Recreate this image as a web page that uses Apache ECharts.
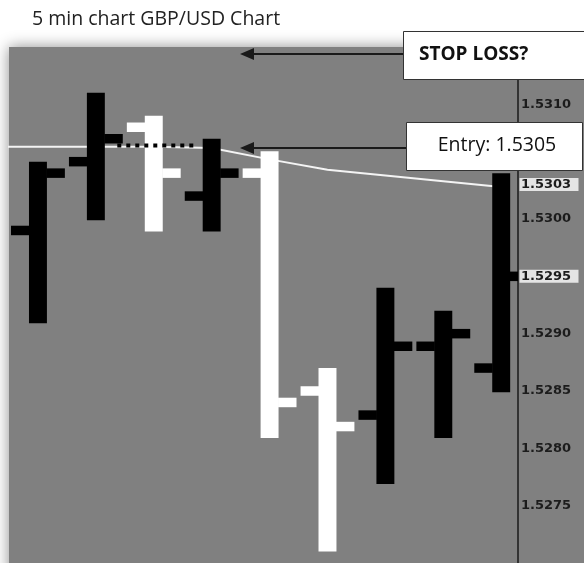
<!DOCTYPE html>
<html>
<head>
<meta charset="utf-8">
<script src="https://cdn.jsdelivr.net/npm/echarts@6/dist/echarts.min.js"></script>
<style>
  html, body { margin: 0; padding: 0; background: #ffffff; }
  #chart { width: 584px; height: 563px; }
</style>
</head>
<body>
<div id="chart"></div>
<script>
// 5-minute GBP/USD bars (index 0..8)
const barIndex = [0, 1, 2, 3, 4, 5, 6, 7, 8];
const opens  = [1.52990, 1.53050, 1.53080, 1.53020, 1.53040, 1.52850, 1.52829, 1.52889, 1.52870];
const highs  = [1.53050, 1.53110, 1.53090, 1.53070, 1.53059, 1.52870, 1.52940, 1.52920, 1.53040];
const lows   = [1.52909, 1.52999, 1.52989, 1.52989, 1.52809, 1.52710, 1.52769, 1.52809, 1.52849];
const closes = [1.53040, 1.53070, 1.53040, 1.53040, 1.52840, 1.52819, 1.52889, 1.52900, 1.52950];

// Moving average, one value per bar (starting one bar earlier)
const maIndex  = [-1, 0, 1, 2, 3, 4, 5, 6, 7, 8];
const maValues = [1.53063, 1.53063, 1.53063, 1.53063, 1.53062, 1.53052, 1.53043, 1.53038, 1.53033, 1.53028];

// Dotted entry level
const entryIndex  = [1.37, 2.75];
const entryValues = [1.53064, 1.53064];

// Highlighted price tags on the right scale
const priceTags = [1.5303, 1.5295];

// Price scale
const priceMin = 1.5270;
const priceMax = 1.5315;
const priceStep = 0.0005;

const ohlcData = barIndex.map((x, k) => [x, opens[k], highs[k], lows[k], closes[k]]);
const maData = maIndex.map((x, k) => [x, maValues[k]]);
const entryData = entryIndex.map((x, k) => [x, entryValues[k]]);

const xMin = -0.5;
const xMax = 8.29;
const labelFont = { fontFamily: 'DejaVu Sans', fontWeight: 'bold', fontSize: 13 };

const chart = echarts.init(document.getElementById('chart'), null, { renderer: 'canvas' });

chart.setOption({
  animation: false,
  backgroundColor: '#ffffff',
  grid: { left: 9, top: 47, width: 509, height: 522, containLabel: false },
  xAxis: { type: 'value', min: xMin, max: xMax, show: false },
  yAxis: {
    type: 'value',
    position: 'right',
    min: priceMin,
    max: priceMax,
    interval: priceStep,
    scale: true,
    splitLine: { show: false },
    axisTick: { show: false },
    axisLine: { show: true, onZero: false, lineStyle: { color: '#333333', width: 2 } },
    axisLabel: {
      show: true,
      margin: 3,
      showMaxLabel: false,
      showMinLabel: false,
      color: '#1c1c1c',
      fontFamily: labelFont.fontFamily,
      fontWeight: labelFont.fontWeight,
      fontSize: labelFont.fontSize,
      formatter: v => v.toFixed(4)
    }
  },
  graphic: [
    // panel background with soft edge shadow
    {
      type: 'rect', z: -10, silent: true,
      shape: { x: 9, y: 47, width: 590, height: 530 },
      style: { fill: '#808080', shadowBlur: 14, shadowColor: 'rgba(0,0,0,0.45)' }
    },
    {
      type: 'text', z: 100, x: 32, y: 19,
      style: { text: '5 min chart GBP/USD Chart', fill: '#222222', font: '19.5px "Open Sans"', verticalAlign: 'middle' }
    },
    // STOP LOSS annotation
    {
      type: 'line', z: 100,
      shape: { x1: 403, y1: 54, x2: 250, y2: 54 },
      style: { stroke: '#1a1a1a', lineWidth: 2 }
    },
    {
      type: 'polygon', z: 100,
      shape: { points: [[240, 54], [254, 48], [254, 60]] },
      style: { fill: '#1a1a1a' }
    },
    {
      type: 'rect', z: 100,
      shape: { x: 403.5, y: 31.5, width: 182, height: 48 },
      style: { fill: '#ffffff', stroke: '#333333', lineWidth: 1 }
    },
    {
      type: 'text', z: 101, x: 419, y: 55,
      style: { text: 'STOP LOSS?', fill: '#111111', font: 'bold 19px "Open Sans"', verticalAlign: 'middle' }
    },
    // Entry annotation
    {
      type: 'line', z: 100,
      shape: { x1: 406, y1: 148, x2: 250, y2: 148 },
      style: { stroke: '#1a1a1a', lineWidth: 2 }
    },
    {
      type: 'polygon', z: 100,
      shape: { points: [[240, 148], [254, 142], [254, 154]] },
      style: { fill: '#1a1a1a' }
    },
    {
      type: 'rect', z: 100,
      shape: { x: 406.5, y: 122.5, width: 176, height: 48 },
      style: { fill: '#ffffff', stroke: '#333333', lineWidth: 1 }
    },
    {
      type: 'text', z: 101, x: 497, y: 145,
      style: { text: 'Entry: 1.5305', fill: '#111111', font: '19.5px "Open Sans"', align: 'center', verticalAlign: 'middle' }
    }
  ],
  series: [
    {
      name: 'MA',
      type: 'line',
      z: 1,
      data: maData,
      showSymbol: false,
      lineStyle: { color: '#f4f4f4', width: 2 },
      clip: true
    },
    {
      name: 'GBPUSD',
      type: 'custom',
      z: 2,
      data: ohlcData,
      encode: { x: 0, y: [1, 2, 3, 4] },
      clip: true,
      renderItem: function (params, api) {
        const x = api.value(0);
        const o = api.value(1), h = api.value(2), l = api.value(3), c = api.value(4);
        const pH = api.coord([x, h]);
        const pL = api.coord([x, l]);
        const pO = api.coord([x, o]);
        const pC = api.coord([x, c]);
        const band = api.size([1, 0])[0];
        const w = band * 0.31;
        const tick = 9.5;
        const fill = c >= o ? '#000000' : '#ffffff';
        return {
          type: 'group',
          children: [
            { type: 'rect', shape: { x: pH[0] - w / 2, y: pH[1], width: w, height: pL[1] - pH[1] }, style: { fill } },
            { type: 'rect', shape: { x: pO[0] - w / 2 - w, y: pO[1] - tick / 2, width: w + 0.5, height: tick }, style: { fill } },
            { type: 'rect', shape: { x: pC[0] + w / 2 - 0.5, y: pC[1] - tick / 2, width: w + 0.5, height: tick }, style: { fill } }
          ]
        };
      }
    },
    {
      name: 'Entry',
      type: 'line',
      z: 3,
      data: entryData,
      showSymbol: false,
      lineStyle: { color: '#000000', width: 4, type: [4, 5] }
    },
    {
      name: 'Tags',
      type: 'custom',
      z: 4,
      clip: false,
      data: priceTags.map(v => [xMax, v]),
      encode: { x: 0, y: 1 },
      renderItem: function (params, api) {
        const v = api.value(1);
        const p = api.coord([xMax, v]);
        return {
          type: 'group',
          children: [
            { type: 'rect', shape: { x: p[0] + 1.5, y: p[1] - 6.5, width: 59, height: 13 }, style: { fill: '#e4e4e4' } },
            {
              type: 'text',
              style: {
                x: p[0] + 3, y: p[1], text: v.toFixed(4), fill: '#1c1c1c',
                font: 'bold 13px "DejaVu Sans"', verticalAlign: 'middle', align: 'left'
              }
            }
          ]
        };
      }
    }
  ]
});
</script>
</body>
</html>
